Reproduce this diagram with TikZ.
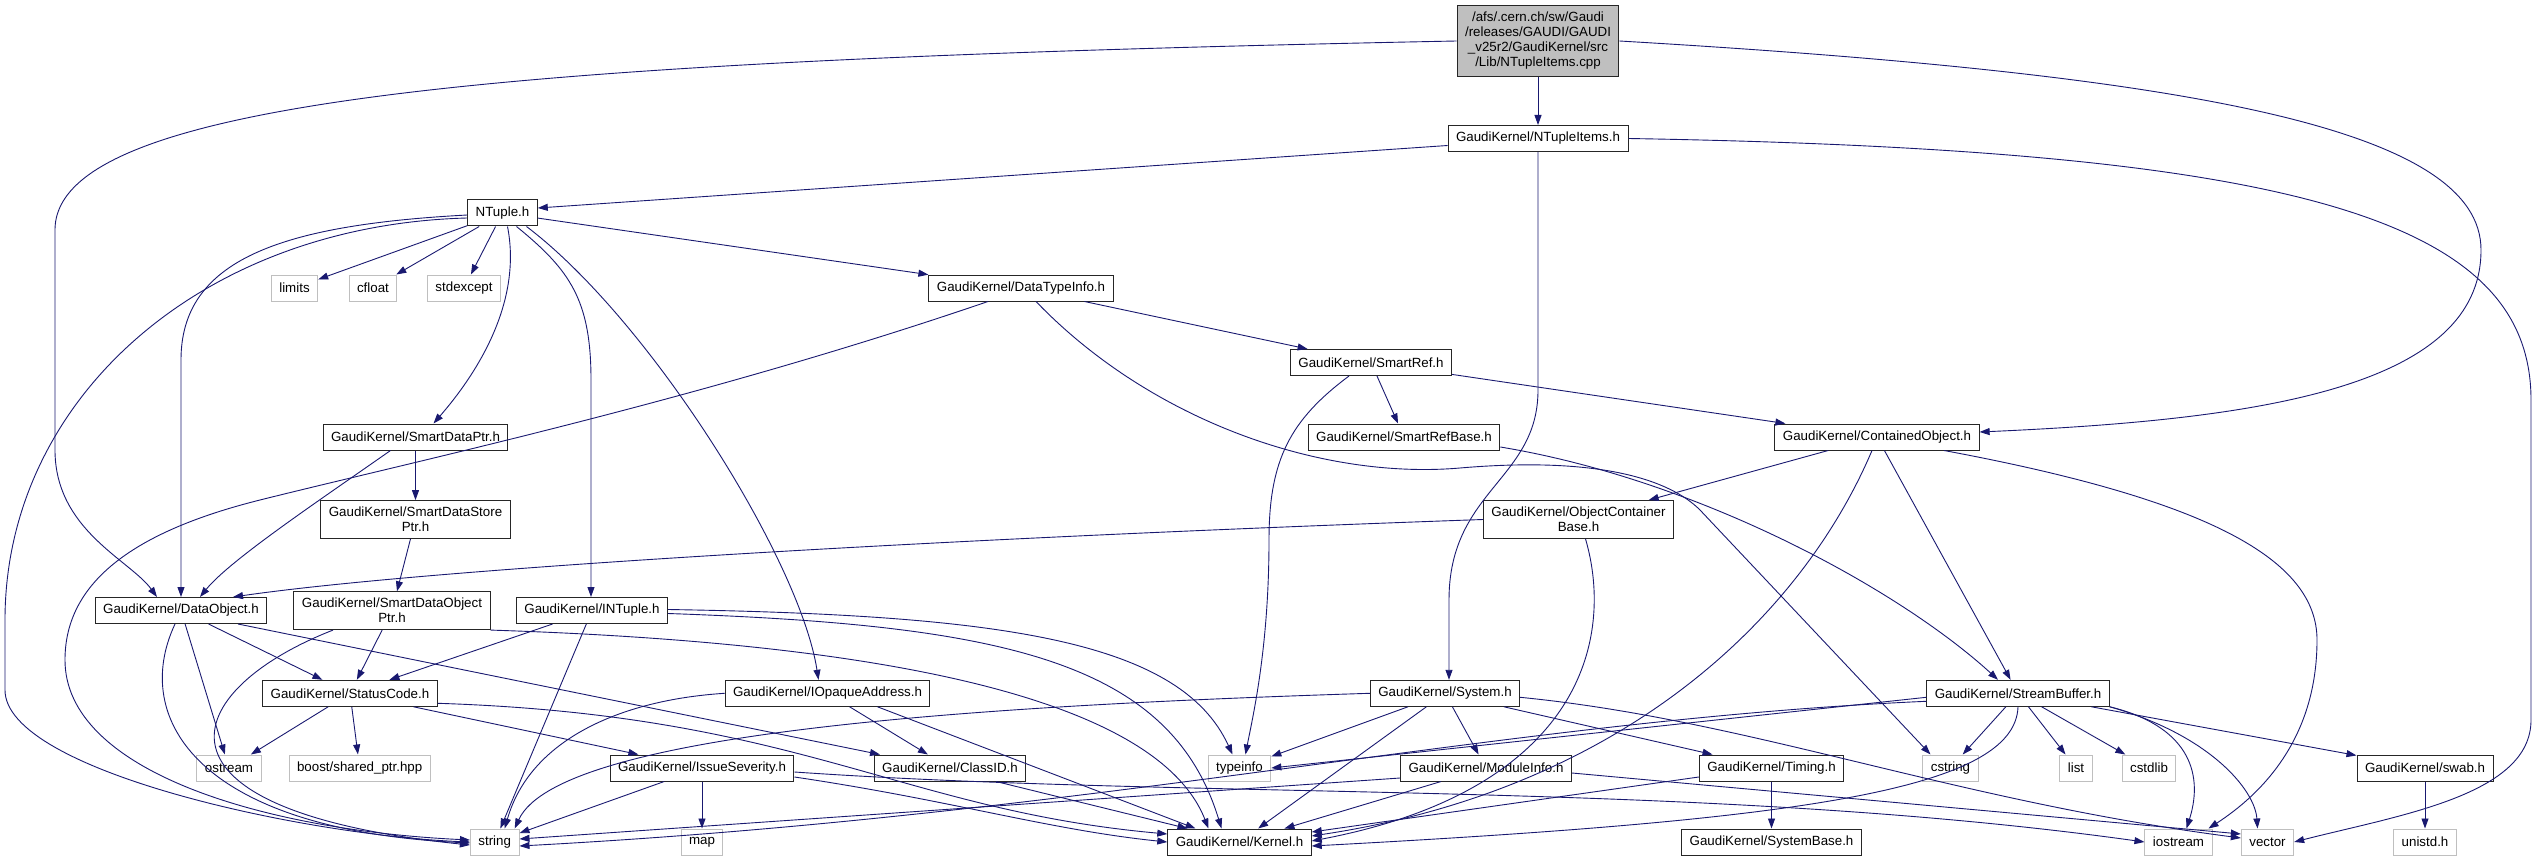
\documentclass[tikz,border=0pt]{standalone}
\usepackage{fontspec}
\setmainfont{Liberation Sans}
\usetikzlibrary{arrows.meta}
\definecolor{edgeblue}{RGB}{25,25,112}
\definecolor{sysgray}{RGB}{191,191,191}
\begin{document}
\begin{tikzpicture}[
    x=1pt, y=-1pt,
    header/.style={rectangle,draw=black!85,line width=1pt,fill=white,inner xsep=8pt,inner ysep=6.5pt,minimum height=26pt,align=center},
    sysheader/.style={header,draw=sysgray},
    rootfile/.style={header,fill=sysgray},
    dep/.style={draw=edgeblue,line width=0.9pt,-{Triangle[length=10pt,width=7pt]}},
    every node/.style={font=\fontsize{13.33}{15}\selectfont}
]
\useasboundingbox (0,0) rectangle (2538,861);

% Plik glowny i pierwszy poziom
\node[rootfile] (root) at (1538,41) {/afs/.cern.ch/sw/Gaudi\\/releases/GAUDI/GAUDI\\\_v25r2/GaudiKernel/src\\/Lib/NTupleItems.cpp};
\node[header] (nti) at (1538,138.5) {GaudiKernel/NTupleItems.h};
\node[header] (ntuple) at (502.5,213) {NTuple.h};

% Naglowki srodkowe
\node[sysheader] (limits) at (294.5,288) {limits};
\node[sysheader] (cfloat) at (373,288) {cfloat};
\node[sysheader] (stdexcept) at (464,288) {stdexcept};
\node[header] (dti) at (1021,288) {GaudiKernel/DataTypeInfo.h};
\node[header] (smartref) at (1371,362.5) {GaudiKernel/SmartRef.h};
\node[header] (smartrefbase) at (1404,437) {GaudiKernel/SmartRefBase.h};
\node[header] (contained) at (1877,437) {GaudiKernel/ContainedObject.h};
\node[header] (smartdataptr) at (415.5,437) {GaudiKernel/SmartDataPtr.h};
\node[header] (storeptr) at (415.5,519.5) {GaudiKernel/SmartDataStore\\Ptr.h};
\node[header] (objcont) at (1578.5,519.5) {GaudiKernel/ObjectContainer\\Base.h};
\node[header] (dataobject) at (181,610.5) {GaudiKernel/DataObject.h};
\node[header] (objptr) at (392,610.7) {GaudiKernel/SmartDataObject\\Ptr.h};
\node[header] (intuple) at (592,610.5) {GaudiKernel/INTuple.h};
\node[header] (statuscode) at (350,693.3) {GaudiKernel/StatusCode.h};
\node[header] (iopaque) at (827.5,693.3) {GaudiKernel/IOpaqueAddress.h};
\node[header] (system) at (1445,693.3) {GaudiKernel/System.h};
\node[header] (streambuffer) at (2018,693.3) {GaudiKernel/StreamBuffer.h};

% Przedostatni rzad
\node[sysheader] (ostream) at (229,768) {ostream};
\node[sysheader] (boost) at (359.7,768) {boost/shared\_ptr.hpp};
\node[header] (issue) at (702,768) {GaudiKernel/IssueSeverity.h};
\node[header] (classid) at (950,768) {GaudiKernel/ClassID.h};
\node[sysheader] (typeinfo) at (1239.5,768) {typeinfo};
\node[header] (moduleinfo) at (1486,768) {GaudiKernel/ModuleInfo.h};
\node[header] (timing) at (1771.5,768) {GaudiKernel/Timing.h};
\node[sysheader] (cstring) at (1950.5,768) {cstring};
\node[sysheader] (list) at (2076,768) {list};
\node[sysheader] (cstdlib) at (2149,768) {cstdlib};
\node[header] (swab) at (2425,768) {GaudiKernel/swab.h};

% Dolny rzad
\node[sysheader] (string) at (494.7,842) {string};
\node[sysheader] (map) at (702,842) {map};
\node[header] (kernel) at (1239.5,842) {GaudiKernel/Kernel.h};
\node[header] (systembase) at (1771.5,842) {GaudiKernel/SystemBase.h};
\node[sysheader] (iostream) at (2178.5,842) {iostream};
\node[sysheader] (vector) at (2267.5,842) {vector};
\node[sysheader] (unistd) at (2425,842) {unistd.h};

% Krawedzie z pliku glownego
\draw[dep] (root) -- (nti);
\draw[dep] (root.west) .. controls (500,60) and (55,100) .. (55,230) -- (55,450) .. controls (55,530) and (130,560) .. ([xshift=-24pt]dataobject.north);
\draw[dep] (root.east) .. controls (2200,75) and (2481,130) .. (2481,250) .. controls (2481,390) and (2250,420) .. ([yshift=5pt]contained.east);

% NTupleItems.h
\draw[dep] ([yshift=-7pt]nti.west) -- ([yshift=5pt]ntuple.east);
\draw[dep] (nti) -- (1538,390) .. controls (1538,480) and (1449,490) .. (1449,600) -- ([xshift=4pt]system.north);
\draw[dep] (nti.east) .. controls (2300,150) and (2531,220) .. (2531,400) -- (2531,720) .. controls (2531,795) and (2400,815) .. (vector.east);

% NTuple.h
\draw[dep] (ntuple) -- (limits);
\draw[dep] (ntuple) -- (cfloat);
\draw[dep] (ntuple) -- (stdexcept);
\draw[dep] (ntuple) -- (dti);
\draw[dep] ([xshift=5pt]ntuple.south) .. controls (522,300) and (480,370) .. ([xshift=18pt]smartdataptr.north);
\draw[dep] ([xshift=14pt]ntuple.south) .. controls (570,270) and (591,300) .. (591,380) -- ([xshift=-1pt]intuple.north);
\draw[dep] ([xshift=24pt]ntuple.south) .. controls (650,320) and (800,560) .. ([xshift=-9pt]iopaque.north);
\draw[dep] ([yshift=-2pt]ntuple.west) .. controls (280,225) and (181,260) .. (181,360) -- (dataobject.north);
\draw[dep] ([yshift=-5pt]ntuple.west) .. controls (200,225) and (5,400) .. (5,620) -- (5,690) .. controls (5,770) and (300,835) .. (string.west);

% DataTypeInfo.h
\draw[dep] (dti) -- (smartref);
\draw[dep] ([xshift=-33pt]dti.south) .. controls (700,400) and (420,460) .. (260,500) .. controls (120,535) and (65,590) .. (65,660) .. controls (65,770) and (260,830) .. ([yshift=2pt]string.west);
\draw[dep] ([xshift=15pt]dti.south) .. controls (1150,420) and (1320,480) .. (1460,468) .. controls (1600,456) and (1670,480) .. (1700,510) -- ([xshift=-20pt]cstring.north);

% SmartRef.h i SmartRefBase.h
\draw[dep] (smartref) -- (smartrefbase);
\draw[dep] (smartref) -- (contained);
\draw[dep] ([xshift=-22pt]smartref.south) .. controls (1290,420) and (1269,460) .. (1269,540) .. controls (1269,650) and (1252,720) .. ([xshift=6pt]typeinfo.north);
\draw[dep] ([yshift=-10pt]smartrefbase.east) .. controls (1700,480) and (1900,590) .. ([xshift=-20pt]streambuffer.north);

% ContainedObject.h
\draw[dep] (contained) -- (objcont);
\draw[dep] (contained) -- (streambuffer);
\draw[dep] ([xshift=-5pt]contained.south) .. controls (1800,620) and (1620,790) .. ([yshift=6pt]kernel.east);
\draw[dep] ([xshift=67pt]contained.south) .. controls (2210,500) and (2317,560) .. (2317,640) .. controls (2317,740) and (2260,795) .. ([xshift=30pt]iostream.north);

% ObjectContainerBase.h
\draw[dep] (objcont.west) .. controls (900,540) and (420,570) .. ([xshift=52pt]dataobject.north);
\draw[dep] ([xshift=7pt]objcont.south) .. controls (1615,640) and (1580,790) .. ([yshift=1pt]kernel.east);

% SmartDataPtr.h i pochodne
\draw[dep] (smartdataptr) -- (storeptr);
\draw[dep] ([xshift=-25pt]smartdataptr.south) .. controls (320,500) and (230,560) .. ([xshift=19pt]dataobject.north);
\draw[dep] (storeptr) -- (objptr);

% DataObject.h
\draw[dep] ([xshift=-6pt]dataobject.south) .. controls (130,720) and (200,830) .. ([yshift=-1pt]string.west);
\draw[dep] (dataobject) -- (ostream);
\draw[dep] (dataobject) -- (statuscode);
\draw[dep] ([xshift=57pt]dataobject.south) -- ([xshift=-70pt]classid.north);

% SmartDataObjectPtr.h
\draw[dep] (objptr) -- (statuscode);
\draw[dep] ([xshift=-59pt]objptr.south) .. controls (180,690) and (130,810) .. ([yshift=-3pt]string.west);
\draw[dep] (objptr.south east) .. controls (800,640) and (1150,680) .. ([xshift=-31pt]kernel.north);

% INTuple.h
\draw[dep] (intuple) -- (statuscode);
\draw[dep] (intuple) -- (string);
\draw[dep] ([yshift=1pt]intuple.east) .. controls (1000,615) and (1180,640) .. ([xshift=-7pt]typeinfo.north);
\draw[dep] ([yshift=-3pt]intuple.east) .. controls (1000,625) and (1170,660) .. ([xshift=-18pt]kernel.north);

% IOpaqueAddress.h
\draw[dep] (iopaque.west) .. controls (620,700) and (530,740) .. ([xshift=10pt]string.north);
\draw[dep] (iopaque) -- (classid);
\draw[dep] ([xshift=50pt]iopaque.south) -- ([xshift=-44pt]kernel.north);

% StatusCode.h
\draw[dep] (statuscode) -- (ostream);
\draw[dep] (statuscode) -- (boost);
\draw[dep] (statuscode) -- (issue);
\draw[dep] ([yshift=-10pt]statuscode.east) .. controls (800,715) and (900,810) .. ([yshift=8pt]kernel.west);

% IssueSeverity.h
\draw[dep] (issue) -- (string);
\draw[dep] (issue) -- (map);
\draw[dep] ([yshift=-9pt]issue.east) .. controls (950,800) and (1050,830) .. (kernel.west);
\draw[dep] ([yshift=-4pt]issue.east) .. controls (1200,800) and (1700,780) .. (iostream.west);

% ClassID.h
\draw[dep] ([xshift=46pt]classid.south) -- ([xshift=-52pt]kernel.north);

% System.h
\draw[dep] (system.west) .. controls (1000,705) and (560,730) .. ([xshift=20pt]string.north);
\draw[dep] (system) -- (typeinfo);
\draw[dep] (system) -- (kernel);
\draw[dep] (system) -- (moduleinfo);
\draw[dep] (system) -- (timing);
\draw[dep] ([yshift=-4pt]system.east) .. controls (1750,720) and (1950,800) .. ([yshift=4pt]vector.west);

% ModuleInfo.h i Timing.h
\draw[dep] ([yshift=-10pt]moduleinfo.west) -- ([yshift=3pt]string.east);
\draw[dep] (moduleinfo) -- (kernel);
\draw[dep] ([yshift=-5pt]moduleinfo.east) -- ([yshift=8pt]vector.west);
\draw[dep] ([yshift=-9pt]timing.west) -- ([yshift=10pt]kernel.east);
\draw[dep] (timing) -- (systembase);

% StreamBuffer.h
\draw[dep] ([yshift=-4pt]streambuffer.west) -- (typeinfo.east);
\draw[dep] ([yshift=-8pt]streambuffer.west) .. controls (1500,720) and (1100,815) .. ([yshift=-4pt]string.east);
\draw[dep] (streambuffer.south) .. controls (2015,790) and (1800,820) .. ([yshift=-4pt]kernel.east);
\draw[dep] (streambuffer) -- (cstring);
\draw[dep] (streambuffer) -- (list);
\draw[dep] (streambuffer) -- (cstdlib);
\draw[dep] (streambuffer) -- (swab);
\draw[dep] (streambuffer.south east) .. controls (2185,725) and (2205,770) .. ([xshift=8pt]iostream.north);
\draw[dep] (streambuffer.south east) .. controls (2210,735) and (2255,790) .. ([xshift=-10pt]vector.north);

% swab.h
\draw[dep] (swab) -- (unistd);

\end{tikzpicture}
\end{document}
